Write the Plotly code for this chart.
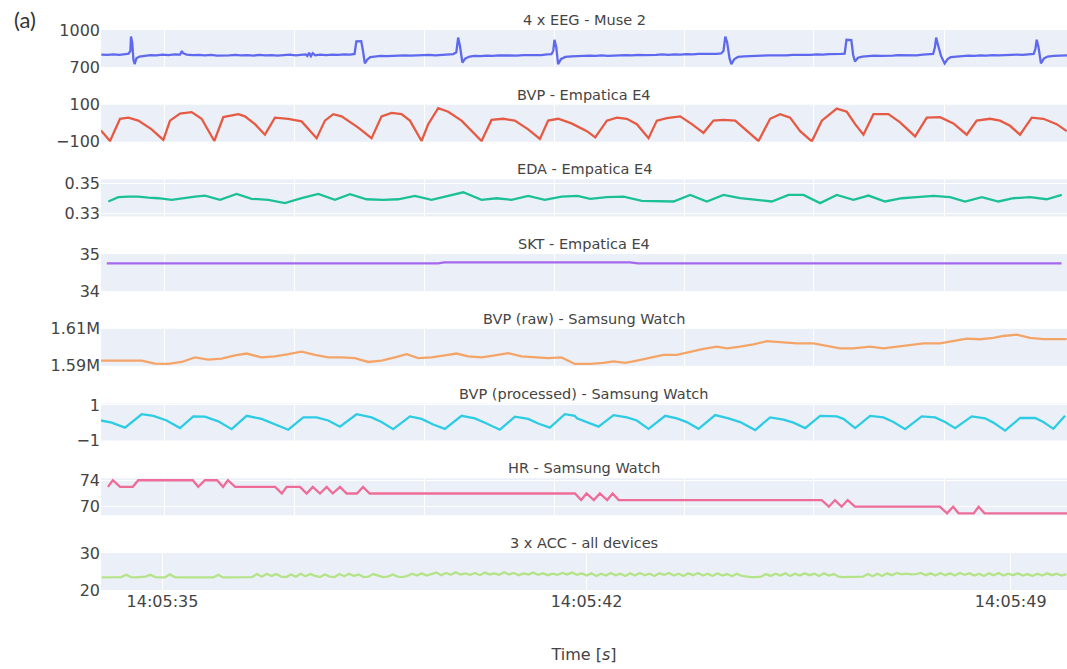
import pandas as pd
import plotly.graph_objects as go
from plotly.subplots import make_subplots

BASE = pd.Timestamp("2023-05-10 14:05:00")

titles = ["4 x EEG - Muse 2", "BVP - Empatica E4", "EDA - Empatica E4", "SKT - Empatica E4",
          "BVP (raw) - Samsung Watch", "BVP (processed) - Samsung Watch", "HR - Samsung Watch",
          "3 x ACC - all devices"]

# ---- EEG (Muse 2): seconds after 14:05:00, value ----
eeg_t = [33.99, 34.09, 34.19, 34.29, 34.39, 34.44, 34.47, 34.48, 34.50, 34.52, 34.54, 34.57, 34.62, 34.70,
         34.80, 34.90, 35.00, 35.10, 35.20, 35.29, 35.32, 35.34, 35.40, 35.50, 35.60, 35.70, 35.80, 35.90,
         36.00, 36.10, 36.20, 36.30, 36.40, 36.50, 36.60, 36.70, 36.80, 36.90, 37.00, 37.10, 37.20, 37.30,
         37.36, 37.39, 37.42, 37.45, 37.48, 37.52, 37.60, 37.70, 37.80, 37.90, 38.00, 38.10, 38.17, 38.20,
         38.28, 38.31, 38.34, 38.38, 38.43, 38.50, 38.60, 38.70, 38.80, 38.90, 39.00, 39.10, 39.20, 39.30,
         39.40, 39.50, 39.60, 39.70, 39.80, 39.85, 39.88, 39.91, 39.95, 40.00, 40.07, 40.15, 40.25, 40.35,
         40.45, 40.55, 40.65, 40.75, 40.85, 40.95, 41.05, 41.15, 41.25, 41.35, 41.42, 41.45, 41.47, 41.50,
         41.53, 41.58, 41.65, 41.75, 41.85, 41.95, 42.05, 42.15, 42.25, 42.35, 42.45, 42.55, 42.65, 42.75,
         42.85, 42.95, 43.05, 43.15, 43.25, 43.35, 43.45, 43.55, 43.65, 43.75, 43.85, 43.95, 44.05, 44.15,
         44.22, 44.26, 44.29, 44.32, 44.36, 44.39, 44.44, 44.50, 44.60, 44.70, 44.80, 44.90, 45.00, 45.10,
         45.20, 45.30, 45.40, 45.50, 45.60, 45.70, 45.80, 45.90, 46.00, 46.10, 46.20, 46.26, 46.29, 46.37,
         46.40, 46.43, 46.48, 46.55, 46.65, 46.75, 46.85, 46.95, 47.05, 47.15, 47.25, 47.35, 47.45, 47.55,
         47.65, 47.72, 47.75, 47.77, 47.80, 47.85, 47.91, 47.96, 48.01, 48.10, 48.20, 48.30, 48.40, 48.50,
         48.60, 48.70, 48.80, 48.90, 49.00, 49.10, 49.20, 49.30, 49.38, 49.41, 49.43, 49.46, 49.50, 49.55,
         49.61, 49.71, 49.81, 49.93]
eeg_v = [800, 798, 803, 799, 805, 808, 830, 947, 900, 760, 724, 770, 785, 790,
         796, 794, 800, 797, 802, 800, 830, 812, 800, 796, 799, 795, 798, 793,
         797, 795, 799, 794, 797, 793, 798, 794, 797, 792, 796, 800, 795, 798,
         802, 790, 815, 788, 812, 795, 800, 797, 801, 798, 803, 800, 806, 908,
         910, 830, 729, 760, 780, 785, 790, 788, 792, 790, 795, 792, 796, 794,
         798, 795, 800, 803, 805, 820, 939, 870, 737, 770, 785, 790, 788, 793,
         790, 794, 792, 796, 793, 797, 795, 799, 797, 802, 805, 830, 921, 860,
         724, 765, 782, 786, 790, 788, 792, 790, 794, 791, 795, 793, 797, 795,
         799, 796, 800, 798, 802, 799, 803, 800, 805, 802, 806, 804, 808, 806,
         810, 830, 947, 900, 770, 724, 765, 782, 786, 790, 788, 792, 795, 793,
         797, 795, 799, 797, 801, 799, 803, 800, 804, 802, 806, 808, 921, 918,
         800, 745, 775, 785, 789, 792, 790, 794, 792, 796, 794, 798, 795, 800,
         803, 806, 860, 938, 880, 790, 729, 765, 780, 785, 788, 792, 790, 795,
         792, 797, 795, 799, 797, 801, 799, 803, 806, 850, 921, 860, 729, 770,
         785, 790, 792, 795]

# ---- BVP (Empatica E4) ----
bvp_t = [33.985, 34.134, 34.299, 34.436, 34.601, 34.821, 35.014, 35.124, 35.289, 35.481, 35.646, 35.855,
         36.004, 36.114, 36.251, 36.361, 36.526, 36.691, 36.856, 37.076, 37.296, 37.544, 37.681, 37.819,
         37.956, 38.231, 38.451, 38.616, 38.781, 38.946, 39.084, 39.276, 39.386, 39.551, 39.716, 39.936,
         40.101, 40.266, 40.431, 40.624, 40.816, 41.036, 41.229, 41.366, 41.531, 41.751, 42.005, 42.143,
         42.335, 42.500, 42.665, 42.830, 43.023, 43.160, 43.325, 43.545, 43.738, 43.930, 44.095, 44.260,
         44.453, 44.645, 44.838, 45.030, 45.195, 45.360, 45.525, 45.718, 45.883, 46.130, 46.295, 46.433,
         46.570, 46.735, 46.983, 47.175, 47.423, 47.615, 47.835, 48.055, 48.275, 48.440, 48.660, 48.825,
         48.990, 49.155, 49.348, 49.540, 49.760, 49.925]
bvp_v = [-39, -96, 24, 30, 14, -33, -90, 14, 52, 60, 24, -96,
         33, 41, 49, 37, -5, -62, 30, 24, 10, -81, 14, 49,
         37, -24, -81, 37, 56, 49, 14, -96, -5, 81, 62, 14,
         -43, -96, 18, 24, 14, -33, -85, 14, 24, -1, -43, -77,
         14, 30, 24, -5, -81, 14, 28, 37, -5, -52, 14, 18,
         14, -39, -96, 24, 49, 30, -43, -98, 14, 79, 62, -5,
         -62, 49, 49, 5, -71, 30, 33, -1, -62, 14, 24, 14,
         -14, -62, 30, 24, -5, -43]

# ---- EDA (Empatica E4) ----
eda_t = [34.106, 34.271, 34.436, 34.601, 34.766, 34.931, 35.151, 35.316, 35.536, 35.701, 35.949, 36.224,
         36.471, 36.746, 37.021, 37.296, 37.571, 37.846, 38.094, 38.369, 38.644, 38.891, 39.166, 39.441,
         39.716, 39.964, 40.266, 40.514, 40.761, 41.036, 41.311, 41.586, 41.850, 42.060, 42.335, 42.610,
         42.913, 43.188, 43.435, 43.710, 43.985, 44.260, 44.535, 44.810, 45.058, 45.333, 45.580, 45.855,
         46.130, 46.405, 46.653, 46.928, 47.203, 47.450, 47.725, 48.000, 48.248, 48.523, 48.798, 49.045,
         49.320, 49.595, 49.843]
eda_v = [0.3378, 0.3407, 0.3411, 0.3411, 0.3404, 0.3400, 0.3389, 0.3400, 0.3411, 0.3418, 0.3389, 0.3429,
         0.3396, 0.3389, 0.3367, 0.3400, 0.3429, 0.3389, 0.3427, 0.3393, 0.3389, 0.3393, 0.3416, 0.3389,
         0.3418, 0.3440, 0.3389, 0.3400, 0.3389, 0.3416, 0.3389, 0.3411, 0.3416, 0.3396, 0.3407, 0.3411,
         0.3382, 0.3378, 0.3378, 0.3422, 0.3378, 0.3422, 0.3400, 0.3389, 0.3378, 0.3422, 0.3422, 0.3367,
         0.3422, 0.3389, 0.3418, 0.3378, 0.3400, 0.3407, 0.3416, 0.3407, 0.3378, 0.3407, 0.3378, 0.3400,
         0.3407, 0.3393, 0.3422]

# ---- SKT (Empatica E4) ----
skt_t = [34.08, 39.55, 39.65, 42.72, 42.85, 49.84]
skt_v = [34.75, 34.75, 34.78, 34.78, 34.75, 34.75]

# ---- BVP raw (Samsung Watch) ----
bvpr_t = [33.985, 34.216, 34.436, 34.656, 34.876, 35.096, 35.316, 35.536, 35.756, 35.976, 36.196, 36.389,
          36.636, 36.856, 37.076, 37.296, 37.516, 37.736, 37.956, 38.176, 38.396, 38.616, 38.836, 39.029,
          39.221, 39.441, 39.661, 39.854, 40.046, 40.266, 40.486, 40.706, 40.926, 41.146, 41.366, 41.586,
          41.806, 42.060, 42.280, 42.445, 42.638, 42.830, 43.050, 43.270, 43.490, 43.710, 43.930, 44.150,
          44.315, 44.535, 44.755, 44.975, 45.195, 45.470, 45.745, 45.965, 46.185, 46.405, 46.680, 46.900,
          47.120, 47.340, 47.560, 47.835, 48.055, 48.275, 48.495, 48.715, 48.880, 49.100, 49.320, 49.540,
          49.925]
bvpr_v = [1592810, 1592810, 1593160, 1592810, 1591230, 1591050, 1592110, 1594560, 1593330, 1593860, 1595610, 1596670,
          1594560, 1595090, 1596320, 1597720, 1595960, 1594560, 1594560, 1594210, 1592110, 1592810, 1594560, 1596320,
          1594210, 1594560, 1595610, 1596670, 1595090, 1594560, 1595610, 1596840, 1595090, 1594560, 1594210, 1594560,
          1591050, 1591050, 1591580, 1592460, 1591580, 1592810, 1594560, 1595960, 1595960, 1597720, 1599120, 1600350,
          1599470, 1600350, 1601580, 1603330, 1602630, 1602110, 1602110, 1600880, 1599470, 1599470, 1600350, 1599470,
          1600350, 1601230, 1602110, 1602110, 1603330, 1604740, 1604390, 1605090, 1606140, 1606840, 1605090, 1604390,
          1604390]

# ---- BVP processed (Samsung Watch) ----
bvpp_t = [33.985, 34.161, 34.381, 34.656, 34.849, 35.069, 35.289, 35.509, 35.701, 35.921, 36.141, 36.389,
          36.636, 36.884, 37.076, 37.324, 37.544, 37.736, 37.929, 38.204, 38.451, 38.616, 38.809, 39.084,
          39.276, 39.469, 39.661, 39.936, 40.156, 40.349, 40.569, 40.816, 41.036, 41.201, 41.394, 41.641,
          41.806, 41.840, 42.005, 42.198, 42.445, 42.665, 42.830, 43.023, 43.298, 43.490, 43.655, 43.848,
          44.123, 44.343, 44.535, 44.783, 45.030, 45.250, 45.415, 45.608, 45.855, 46.130, 46.240, 46.433,
          46.680, 46.900, 47.065, 47.258, 47.533, 47.753, 47.918, 48.083, 48.358, 48.578, 48.715, 48.908,
          49.155, 49.403, 49.540, 49.705, 49.898]
bvpp_v = [0.13, 0.01, -0.27, 0.48, 0.39, 0.13, -0.30, 0.36, 0.34, 0.08, -0.36, 0.39,
          0.22, -0.10, -0.39, 0.30, 0.30, 0.13, -0.22, 0.48, 0.30, 0.04, -0.36, 0.36,
          0.22, -0.10, -0.34, 0.39, 0.25, -0.04, -0.39, 0.34, 0.22, -0.04, -0.27, 0.48,
          0.39, 0.25, 0.04, -0.22, 0.43, 0.30, 0.13, -0.34, 0.39, 0.25, 0.04, -0.34,
          0.43, 0.25, 0.04, -0.41, 0.30, 0.18, 0.01, -0.30, 0.39, 0.36, 0.22, -0.30,
          0.39, 0.30, 0.04, -0.36, 0.36, 0.30, 0.04, -0.30, 0.36, 0.25, 0.01, -0.44,
          0.27, 0.27, 0.04, -0.34, 0.39]

# ---- HR (Samsung Watch) ----
hr_t = [34.10, 34.18, 34.30, 34.51, 34.60, 35.50, 35.59, 35.70, 35.90, 36.00, 36.08, 36.20,
        36.86, 36.97, 37.05, 37.27, 37.38, 37.48, 37.60, 37.71, 37.81, 37.93, 38.04, 38.21,
        38.31, 38.42, 41.81, 41.91, 42.00, 42.12, 42.22, 42.34, 42.43, 42.53, 45.88, 46.00,
        46.10, 46.21, 46.31, 46.43, 47.83, 47.95, 48.05, 48.14, 48.39, 48.47, 48.57, 49.93]
hr_v = [73, 74, 73, 73, 74, 74, 73, 74, 74, 73, 74, 73,
        73, 72, 73, 73, 72, 73, 72, 73, 72, 73, 72, 72,
        73, 72, 72, 71, 72, 71, 72, 71, 72, 71, 71, 70,
        71, 70, 71, 70, 70, 69, 70, 69, 69, 70, 69, 69]

# ---- ACC (all devices), sampled every 0.08 s from 14:05:34.00 ----
acc_start = 34.0
acc_step = 0.08
acc_v = [23.4, 23.4, 23.4, 23.4, 23.5, 24.1, 23.5, 23.4, 23.4, 23.6,
         24.1, 23.5, 23.4, 23.4, 24.2, 23.5, 23.4, 23.4, 23.4, 23.4,
         23.5, 23.4, 23.4, 23.4, 24.1, 23.4, 23.4, 23.4, 23.4, 23.4,
         23.4, 23.5, 24.3, 23.6, 24.4, 23.8, 24.3, 23.6, 23.5, 24.2,
         23.6, 24.4, 23.7, 24.3, 23.8, 23.5, 24.2, 23.6, 23.5, 24.3,
         23.7, 24.4, 23.8, 24.2, 23.5, 23.6, 24.3, 23.8, 23.5, 23.6,
         24.2, 23.6, 23.5, 23.8, 24.4, 23.9, 24.5, 23.9, 24.2, 24.7,
         24.0, 24.6, 24.1, 24.8, 24.2, 24.5, 24.1, 24.6, 24.0, 24.7,
         24.2, 24.5, 24.1, 24.8, 24.2, 24.6, 24.0, 24.5, 24.2, 24.7,
         24.1, 24.5, 24.0, 24.4, 24.1, 24.6, 24.2, 24.7, 24.1, 24.5,
         23.9, 24.5, 23.8, 24.4, 23.9, 24.6, 24.0, 24.4, 23.8, 24.5,
         23.9, 24.6, 24.0, 24.4, 23.8, 24.5, 24.1, 24.6, 23.9, 24.4,
         23.8, 24.5, 24.0, 24.6, 23.9, 24.4, 23.8, 24.5, 23.9, 24.3,
         23.7, 24.4, 23.8, 23.6, 23.5, 23.5, 23.6, 24.3, 23.8, 24.4,
         23.9, 24.5, 23.8, 24.4, 23.9, 24.5, 24.0, 24.4, 23.8, 24.5,
         23.9, 24.3, 23.6, 23.5, 23.5, 23.5, 23.5, 23.6, 24.3, 23.7,
         24.4, 23.8, 24.5, 24.0, 24.6, 24.2, 24.4, 24.2, 24.3, 24.6,
         24.0, 24.5, 23.9, 24.6, 24.0, 24.5, 23.9, 24.6, 24.1, 24.5,
         23.9, 24.4, 23.8, 24.5, 24.0, 24.6, 23.9, 24.4, 24.0, 24.5,
         23.9, 24.3, 23.8, 24.4, 23.9, 24.5, 24.0, 24.4, 23.9, 24.3]

# axis settings
x_range_s = [33.985, 49.93]
grid_s_upper = [35.04, 37.18, 39.33, 41.47, 43.61, 45.75, 47.90]
tick_s_bottom = [35, 42, 49]
y_ranges = [[700, 1000], [-100, 100], [0.3277, 0.3527], [34, 35], [1590000, 1610000],
            [-1, 1.08], [68.7, 74.3], [20, 30]]
y_ticks = [[700, 1000], [-100, 100], [0.33, 0.35], [34, 35], [1590000, 1610000],
           [-1, 1], [70, 74], [20, 30]]
y_ticktext = [["700", "1000"], ["\u2212100", "100"], ["0.33", "0.35"], ["34", "35"],
              ["1.59M", "1.61M"], ["\u22121", "1"], ["70", "74"], ["20", "30"]]
colors = ["#5F69EE", "#E65A44", "#1CC096", "#A368EE", "#F5A468", "#2DCCE4", "#EE6C98", "#B4E388"]


def ts(secs):
    return [BASE + pd.Timedelta(seconds=s) for s in secs]


acc_t = [acc_start + i * acc_step for i in range(len(acc_v))]
series = [(eeg_t, eeg_v), (bvp_t, bvp_v), (eda_t, eda_v), (skt_t, skt_v),
          (bvpr_t, bvpr_v), (bvpp_t, bvpp_v), (hr_t, hr_v), (acc_t, acc_v)]

fig = make_subplots(rows=8, cols=1, shared_xaxes=True, vertical_spacing=0.0673,
                    subplot_titles=titles)

for i, ((t, v), c) in enumerate(zip(series, colors)):
    fig.add_trace(go.Scatter(x=ts(t), y=v, mode="lines", line=dict(color=c, width=2.3),
                             showlegend=False), row=i + 1, col=1)
    fig.update_yaxes(range=y_ranges[i], tickvals=y_ticks[i], ticktext=y_ticktext[i],
                     zeroline=False, gridcolor="white", row=i + 1, col=1)
    if i < 7:
        fig.update_xaxes(tickvals=ts(grid_s_upper), showticklabels=False, row=i + 1, col=1)

fig.update_xaxes(range=ts(x_range_s), gridcolor="white", zeroline=False)
fig.update_xaxes(tickvals=ts(tick_s_bottom), tickformat="%H:%M:%S",
                 title=dict(text="Time [<i>s</i>]", standoff=38,
                            font=dict(family="DejaVu Sans", size=16, color="#444")),
                 row=8, col=1)

fig.update_annotations(font=dict(family="DejaVu Sans", size=14.5, color="#444"))
fig.add_annotation(text="(a)", xref="paper", yref="paper", x=-0.079, y=1.018,
                   xanchor="center", yanchor="middle", showarrow=False,
                   font=dict(family="Lato", size=22, color="#333"))

fig.update_layout(width=1067, height=669, margin=dict(l=101, r=0, t=30, b=79),
                  plot_bgcolor="#EBF0F8", paper_bgcolor="white",
                  font=dict(family="DejaVu Sans", size=16, color="#444"))

fig.write_html("out.html")
